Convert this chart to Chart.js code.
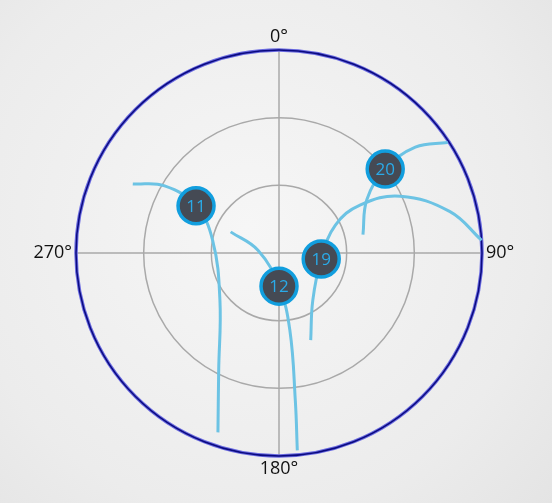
<!DOCTYPE html>
<html>
<head>
<meta charset="utf-8">
<script src="https://cdn.jsdelivr.net/npm/chart.js@4/dist/chart.umd.min.js"></script>
<style>
  html, body { margin: 0; padding: 0; }
  body { width: 552px; height: 503px; background: radial-gradient(circle at 45% 45%, #f6f6f6 0%, #ececec 70%, #e4e4e4 100%); }
  #wrap { width: 552px; height: 503px; }
</style>
</head>
<body>
<div id="wrap"><canvas id="graf"></canvas></div>
<script>
// angles in degrees (0 = top, clockwise), radius in ring units (max 3)
const trackAAngle = [295.3, 300.4, 299.6, 281, 231.2, 207.2, 198.8];
const trackARadius = [2.39, 1.96, 1.41, 1.00, 1.12, 1.95, 2.80];
const trackBAngle = [293.6, 277, 180, 172, 173.7, 174.7];
const trackBRadius = [0.78, 0.31, 0.49, 1.15, 2.20, 2.93];
const trackCAngle = [160, 144.5, 98, 63.7, 59.4, 64.9, 76.4, 86.4];
const trackCRadius = [1.37, 0.86, 0.63, 0.93, 1.39, 1.98, 2.60, 3.0];
const trackDAngle = [77.7, 58.7, 51.7, 52.2, 56.8];
const trackDRadius = [1.27, 1.52, 2.00, 2.55, 2.98];

const bubbleLabels = ["11", "12", "19", "20"];
const bubbleAngle = [299.6, 180, 98, 51.7];
const bubbleRadius = [1.41, 0.49, 0.63, 2.00];

const angleTicks = ["0°", "90°", "180°", "270°"];
const rMax = 3;

function toXY(angles, radii) {
    return angles.map((a, i) => {
        const t = a * Math.PI / 180;
        return { x: radii[i] * Math.sin(t), y: radii[i] * Math.cos(t) };
    });
}

const lineStyle = {
    showLine: true, pointRadius: 0, borderColor: "#6cc3e4", borderWidth: 3,
    tension: 0.4, fill: false, clip: false, order: 2
};

const polarGrid = {
    id: "polarGrid",
    beforeDatasetsDraw(chart) {
        const c = chart.ctx, xs = chart.scales.x, ys = chart.scales.y;
        const cx = xs.getPixelForValue(0), cy = ys.getPixelForValue(0);
        const unit = xs.getPixelForValue(1) - cx;
        c.save();
        c.strokeStyle = "#a9a9a9";
        c.lineWidth = 1.5;
        [1, 2].forEach(r => {
            c.beginPath(); c.arc(cx, cy, r * unit, 0, Math.PI * 2); c.stroke();
        });
        c.beginPath();
        c.moveTo(cx - rMax * unit, cy); c.lineTo(cx + rMax * unit, cy);
        c.moveTo(cx, cy - rMax * unit); c.lineTo(cx, cy + rMax * unit);
        c.stroke();
        c.strokeStyle = "#6a6ae0";
        c.lineWidth = 3.5;
        c.beginPath(); c.arc(cx, cy, rMax * unit, 0, Math.PI * 2); c.stroke();
        c.strokeStyle = "#0a0a80";
        c.lineWidth = 1.5;
        c.beginPath(); c.arc(cx, cy, rMax * unit, 0, Math.PI * 2); c.stroke();
        c.fillStyle = "#111";
        c.font = "18px 'Open Sans', sans-serif";
        c.textAlign = "center"; c.textBaseline = "bottom";
        c.fillText(angleTicks[0], cx, cy - rMax * unit - 4);
        c.textBaseline = "top";
        c.fillText(angleTicks[2], cx, cy + rMax * unit + 4);
        c.textBaseline = "middle"; c.textAlign = "left";
        c.fillText(angleTicks[1], cx + rMax * unit + 4, cy);
        c.textAlign = "right";
        c.fillText(angleTicks[3], cx - rMax * unit - 4, cy);
        c.restore();
    },
    afterDatasetsDraw(chart) {
        const c = chart.ctx;
        const meta = chart.getDatasetMeta(4);
        c.save();
        c.fillStyle = "#2aaae8";
        c.font = "17px 'Open Sans', sans-serif";
        c.textAlign = "center"; c.textBaseline = "middle";
        meta.data.forEach((p, i) => c.fillText(bubbleLabels[i], p.x, p.y + 1));
        c.restore();
    }
};

new Chart(document.getElementById("graf"), {
    type: "scatter",
    data: {
        datasets: [
            { ...lineStyle, data: toXY(trackAAngle, trackARadius) },
            { ...lineStyle, data: toXY(trackBAngle, trackBRadius) },
            { ...lineStyle, data: toXY(trackCAngle, trackCRadius) },
            { ...lineStyle, data: toXY(trackDAngle, trackDRadius) },
            {
                data: toXY(bubbleAngle, bubbleRadius), pointRadius: 18, pointHoverRadius: 18,
                backgroundColor: "#454a54", borderColor: "#119ede", borderWidth: 3.5, clip: false, order: 1
            }
        ]
    },
    options: {
        responsive: true, maintainAspectRatio: false, animation: false,
        layout: { padding: { left: 76, right: 70, top: 50, bottom: 47 } },
        plugins: { legend: { display: false }, tooltip: { enabled: false } },
        scales: {
            x: { display: false, min: -rMax, max: rMax },
            y: { display: false, min: -rMax, max: rMax }
        }
    },
    plugins: [polarGrid]
});
</script>
</body>
</html>
